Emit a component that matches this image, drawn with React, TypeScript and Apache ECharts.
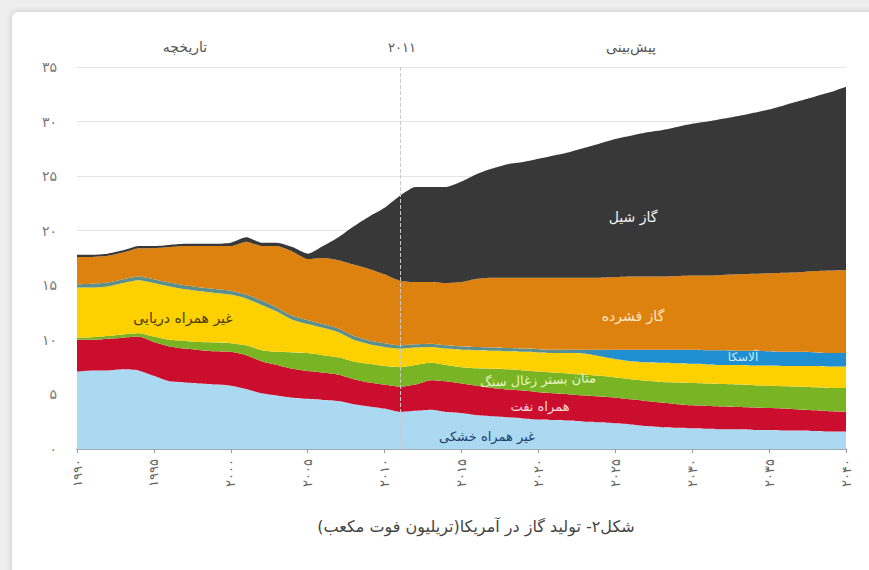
import React, { useEffect, useRef } from "react";
import * as echarts from "echarts";

const years: string[] = Array.from({ length: 51 }, (_, i) => String(1990 + i));

const xTickLabels = ["۱۹۹۰", "۱۹۹۵", "۲۰۰۰", "۲۰۰۵", "۲۰۱۰", "۲۰۱۵", "۲۰۲۰", "۲۰۲۵", "۲۰۳۰", "۲۰۳۵", "۲۰۴۰"];
const yTickLabels = ["۰", "۵", "۱۰", "۱۵", "۲۰", "۲۵", "۳۰", "۳۵"];

// trillion cubic feet, 1990..2040
const onshoreNonAssoc = [7.1, 7.2, 7.2, 7.3, 7.2, 6.7, 6.2, 6.1, 6.0, 5.9, 5.8, 5.5, 5.1, 4.9, 4.7, 4.6, 4.5, 4.4, 4.1, 3.9, 3.7, 3.4, 3.5, 3.6, 3.4, 3.3, 3.1, 3.0, 2.9, 2.8, 2.7, 2.65, 2.6, 2.5, 2.45, 2.35, 2.25, 2.1, 2.0, 1.95, 1.9, 1.85, 1.8, 1.8, 1.75, 1.75, 1.7, 1.7, 1.65, 1.6, 1.6];
const assocWithOil = [2.9, 2.8, 2.9, 2.9, 3.1, 3.1, 3.2, 3.1, 3.05, 3.05, 3.1, 3.1, 2.95, 2.8, 2.65, 2.55, 2.5, 2.4, 2.3, 2.2, 2.2, 2.3, 2.4, 2.7, 2.8, 2.7, 2.7, 2.6, 2.55, 2.55, 2.5, 2.45, 2.4, 2.4, 2.35, 2.35, 2.3, 2.3, 2.25, 2.15, 2.1, 2.1, 2.1, 2.05, 2.05, 2.0, 2.0, 1.9, 1.9, 1.85, 1.8];
const coalbedMethane = [0.2, 0.25, 0.25, 0.3, 0.3, 0.5, 0.6, 0.7, 0.75, 0.8, 0.8, 0.9, 1.0, 1.2, 1.5, 1.65, 1.6, 1.6, 1.6, 1.7, 1.7, 1.8, 1.8, 1.6, 1.5, 1.5, 1.6, 1.75, 1.85, 1.85, 1.9, 1.9, 1.9, 1.9, 1.9, 1.85, 1.85, 1.85, 1.9, 2.0, 2.05, 2.05, 2.05, 2.05, 2.05, 2.05, 2.05, 2.1, 2.1, 2.15, 2.2];
const offshoreNonAssoc = [4.6, 4.55, 4.55, 4.7, 4.85, 4.9, 4.9, 4.75, 4.65, 4.55, 4.45, 4.3, 4.15, 3.7, 3.0, 2.65, 2.5, 2.3, 2.0, 1.8, 1.75, 1.7, 1.6, 1.45, 1.5, 1.6, 1.65, 1.65, 1.65, 1.7, 1.75, 1.8, 1.9, 1.95, 1.8, 1.7, 1.65, 1.7, 1.75, 1.75, 1.75, 1.75, 1.75, 1.8, 1.8, 1.85, 1.85, 1.9, 1.95, 1.95, 1.95];
const alaska = [0.3, 0.35, 0.35, 0.35, 0.35, 0.35, 0.35, 0.35, 0.35, 0.35, 0.35, 0.35, 0.4, 0.35, 0.35, 0.35, 0.35, 0.35, 0.35, 0.35, 0.35, 0.3, 0.3, 0.3, 0.3, 0.3, 0.3, 0.3, 0.3, 0.3, 0.3, 0.3, 0.3, 0.35, 0.6, 0.85, 1.05, 1.15, 1.2, 1.25, 1.3, 1.3, 1.35, 1.3, 1.35, 1.3, 1.3, 1.3, 1.25, 1.25, 1.25];
const tightGas = [2.5, 2.45, 2.45, 2.45, 2.6, 2.85, 3.25, 3.6, 3.8, 3.95, 4.1, 4.85, 5.0, 5.65, 5.9, 5.6, 6.05, 6.25, 6.55, 6.55, 6.3, 5.9, 5.7, 5.65, 5.7, 5.9, 6.25, 6.4, 6.45, 6.5, 6.55, 6.6, 6.6, 6.6, 6.6, 6.65, 6.7, 6.7, 6.7, 6.75, 6.8, 6.85, 6.9, 7.0, 7.05, 7.15, 7.25, 7.3, 7.45, 7.55, 7.6];
const shaleGas = [0.2, 0.2, 0.2, 0.2, 0.2, 0.2, 0.2, 0.2, 0.2, 0.2, 0.3, 0.4, 0.3, 0.3, 0.4, 0.5, 1.1, 2.1, 3.5, 4.8, 6.1, 7.8, 8.7, 8.7, 8.8, 9.2, 9.6, 10.0, 10.4, 10.6, 10.9, 11.2, 11.5, 11.9, 12.3, 12.65, 12.9, 13.2, 13.4, 13.65, 13.9, 14.1, 14.3, 14.5, 14.75, 15.0, 15.35, 15.7, 16.0, 16.35, 16.8];

const seriesNames = ["غیر همراه خشکی", "همراه نفت", "متان بستر زغال سنگ", "غیر همراه دریایی", "آلاسکا", "گاز فشرده", "گاز شیل"];
const seriesData = [onshoreNonAssoc, assocWithOil, coalbedMethane, offshoreNonAssoc, alaska, tightGas, shaleGas];
const seriesColors = ["#acd9f2", "#cc0e2e", "#79b425", "#fdd000", "#1f8fd1", "#de820f", "#383838"];

const FONT = "DejaVu Sans";
const rtl = (s: string) => "\u200F" + s + "\u200F";

export default function App() {
  const ref = useRef<HTMLDivElement>(null);

  useEffect(() => {
    if (!ref.current) return;
    const chart = echarts.init(ref.current, undefined, { renderer: "svg" });
    const series: any[] = seriesData.map((d, i) => ({
      name: seriesNames[i],
      type: "line",
      stack: "total",
      data: d,
      smooth: 0.2,
      showSymbol: false,
      symbol: "none",
      lineStyle: { width: 0 },
      areaStyle: { color: seriesColors[i], opacity: 1 },
      itemStyle: { color: seriesColors[i] },
      z: 2 + i,
    }));
    // Alaska band looks grey-teal while thin (history), bright blue in projection
    series[4].areaStyle.color = new echarts.graphic.LinearGradient(0, 0, 1, 0, [
      { offset: 0, color: "#5b8f8c" },
      { offset: 0.62, color: "#5b8f8c" },
      { offset: 0.7, color: "#1f8fd1" },
      { offset: 1, color: "#1f8fd1" },
    ]);
    series[series.length - 1].markLine = {
      silent: true,
      symbol: "none",
      label: { show: false },
      lineStyle: { type: "dashed", color: "#c9c9c9", width: 1 },
      data: [{ xAxis: "2011" }],
      z: 20,
    };

    const label = (text: string, x: number, y: number, fill: string, size = 13, rotation = 0) => ({
      type: "text",
      x,
      y,
      rotation,
      z: 100,
      style: {
        text: rtl(text),
        fill,
        fontSize: size,
        fontFamily: FONT,
        align: "center",
        verticalAlign: "middle",
      },
    });

    chart.setOption({
      animation: false,
      grid: { left: 77, right: 23, top: 67, bottom: 121, containLabel: false },
      xAxis: {
        type: "category",
        data: years,
        boundaryGap: false,
        axisLine: { show: true, lineStyle: { color: "#8f9aa3", width: 1.5 } },
        axisTick: { show: true, interval: 4, length: 4, lineStyle: { color: "#999" } },
        axisLabel: {
          interval: 4,
          rotate: 90,
          margin: 10,
          color: "#666",
          fontSize: 13,
          fontFamily: FONT,
          formatter: (_v: string, idx: number) => xTickLabels[idx / 5] ?? "",
        },
        splitLine: { show: false },
      },
      yAxis: {
        type: "value",
        min: 0,
        max: 35,
        interval: 5,
        axisLine: { show: false },
        axisTick: { show: false },
        axisLabel: {
          margin: 20,
          color: "#777",
          fontSize: 14,
          fontFamily: FONT,
          formatter: (v: number) => yTickLabels[Math.round(v / 5)] ?? "",
        },
        splitLine: { show: true, lineStyle: { color: "#e4e4e4", width: 1 } },
      },
      series,
      graphic: [
        label("تاریخچه", 185, 47, "#555", 14),
        label("۲۰۱۱", 402, 47, "#555", 13),
        label("پیش‌بینی", 631, 47, "#555", 14),
        label("گاز شیل", 633, 217, "#f2f2f2", 14),
        label("گاز فشرده", 633, 316, "#fde7c4", 14),
        label("آلاسکا", 743, 357, "#cdeaff", 12),
        label("متان بستر زغال سنگ", 538, 380, "#e6f6c6", 13, 0.04),
        label("همراه نفت", 540, 406, "#ffd6dc", 13),
        label("غیر همراه خشکی", 487, 436, "#21406e", 13),
        label("غیر همراه دریایی", 183, 318, "#4a3c00", 14),
        label("شکل۲- تولید گاز در آمریکا(تریلیون فوت مکعب)", 476, 526, "#444", 16),
      ],
    });
    return () => chart.dispose();
  }, []);

  return (
    <div style={{ position: "fixed", left: 0, top: 0, width: 869, height: 570, background: "#eeeeee", overflow: "hidden" }}>
      <div
        style={{
          position: "absolute",
          left: 12,
          top: 12,
          width: 880,
          height: 580,
          background: "#ffffff",
          borderRadius: 6,
          boxShadow: "0 0 6px rgba(0,0,0,0.18)",
        }}
      />
      <div ref={ref} style={{ position: "absolute", left: 0, top: 0, width: 869, height: 570 }} />
    </div>
  );
}
